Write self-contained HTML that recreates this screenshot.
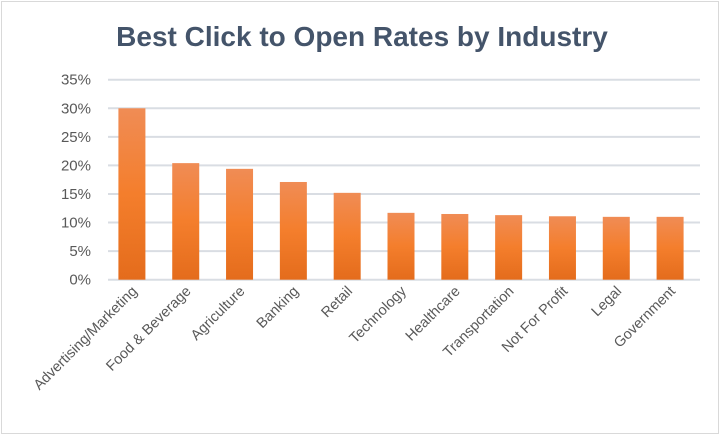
<!DOCTYPE html>
<html><head><meta charset="utf-8"><style>
body{margin:0;background:#fff}
svg{display:block;font-family:"Liberation Sans",Calibri,sans-serif}
</style></head><body>
<svg id="chart" width="720" height="435" viewBox="0 0 720 435">
<defs><linearGradient id="g" x1="0" y1="0" x2="0" y2="1"><stop offset="0" stop-color="#f08c55"/><stop offset="0.5" stop-color="#f47e2c"/><stop offset="1" stop-color="#e46c1c"/></linearGradient></defs>
<rect x="1.5" y="1.5" width="717" height="432" fill="#fff" stroke="#d9d9d9"/>
<text x="362" y="46" text-anchor="middle" font-size="28" font-weight="bold" fill="#44546a">Best Click to Open Rates by Industry</text>
<g id="grid"></g><g id="bars"></g><g id="labels"></g>
</svg>
<script>
const categories=["Advertising/Marketing","Food & Beverage","Agriculture","Banking","Retail","Technology","Healthcare","Transportation","Not For Profit","Legal","Government"];
const values=[30,20.4,19.4,17.1,15.2,11.7,11.5,11.3,11.1,11.0,11.0];
const ticks=[0,5,10,15,20,25,30,35];
const ns="http://www.w3.org/2000/svg";
const x0=108,x1=700,y0=279.7,yTop=79.7,yMax=35;
const yS=v=>y0-(v/yMax)*(y0-yTop);
const band=(x1-x0)/categories.length;
const xC=i=>x0+band*(i+0.5)-3;
function mk(t,a){const e=document.createElementNS(ns,t);for(const k in a)e.setAttribute(k,a[k]);return e;}
const grid=document.getElementById('grid'),bars=document.getElementById('bars'),labels=document.getElementById('labels');
ticks.forEach(t=>{
 const l=mk('line',{x1:x0,x2:x1,y1:yS(t),y2:yS(t),stroke:'#d9dde3','stroke-width':2});
 
 
 grid.appendChild(l);
 const tx=mk('text',{x:91,y:yS(t)+5,'text-anchor':'end','font-size':15,fill:'#595959'});
 tx.textContent=t+'%';
 
 
 grid.appendChild(tx);
});
categories.forEach((c,i)=>{
 const w=27,cx=xC(i);
 const r=mk('rect',{x:cx-w/2,y:yS(values[i]),width:w,height:y0-yS(values[i]),fill:'url(#g)'});
 
 
 bars.appendChild(r);
 const t=mk('text',{x:cx+6,y:292,'text-anchor':'end','font-size':14.5,fill:'#595959',transform:`rotate(-45 ${cx+6} 292)`});
 t.textContent=c;
 
 
 labels.appendChild(t);
});
</script>
</body></html>
